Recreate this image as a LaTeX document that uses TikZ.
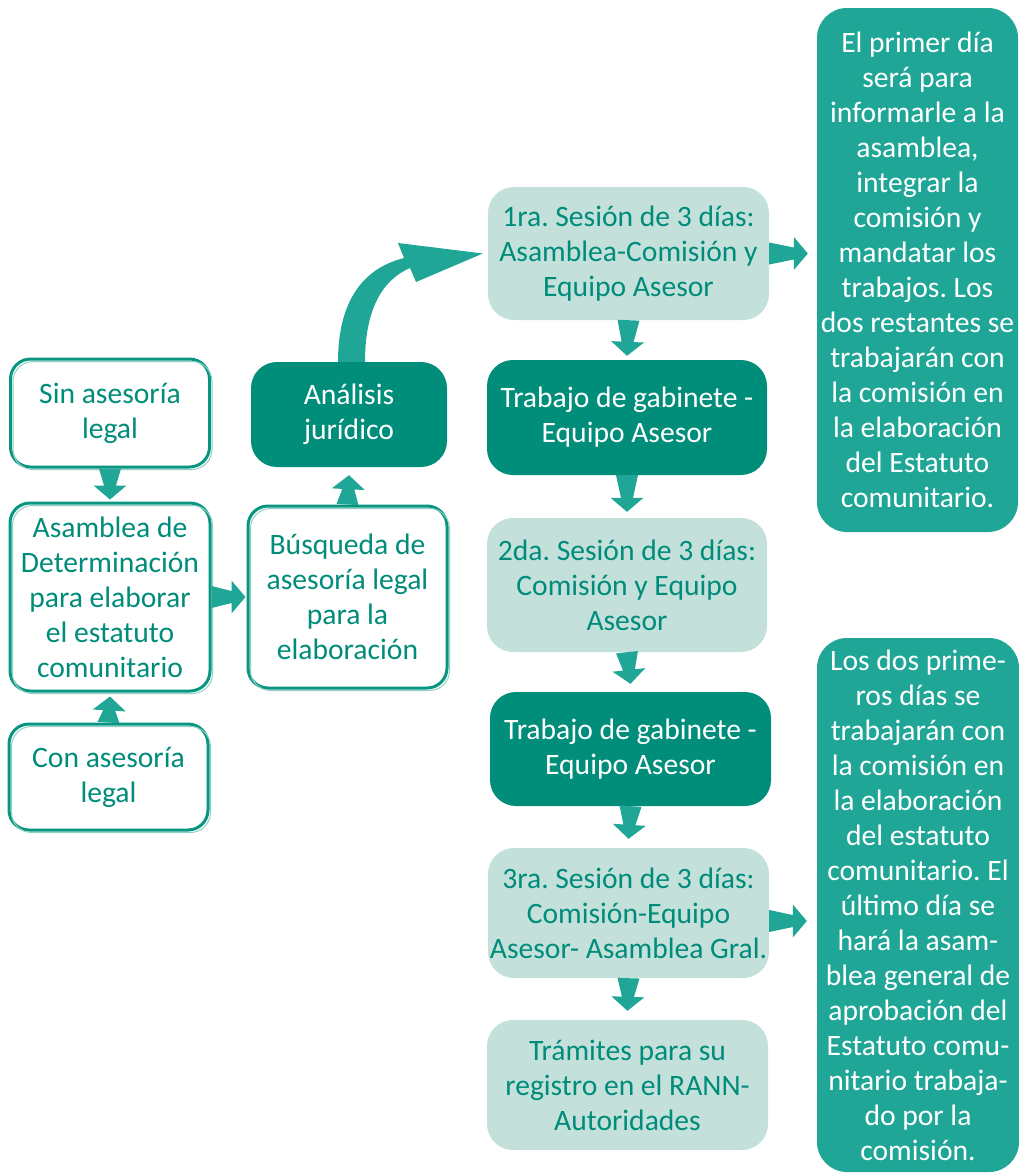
\documentclass[tikz,border=0pt]{standalone}
\usepackage{fontspec}
\setmainfont{Carlito}
\frenchspacing
\usetikzlibrary{calc}
\definecolor{darkteal}{RGB}{0,142,122}
\definecolor{midteal}{RGB}{32,166,150}
\definecolor{lightteal}{RGB}{196,224,219}
\definecolor{textteal}{RGB}{0,140,122}
\definecolor{linteal}{RGB}{8,150,128}
\tikzset{
  box/.style={rounded corners=26pt, inner sep=0pt, align=center, font=\fontsize{29.6}{35}\selectfont},
  outbox/.style={box, draw=linteal, line width=3pt, fill=white, text=textteal, rounded corners=20pt,
    postaction={draw=linteal!45, line width=1pt, transform canvas={shift={(2.5pt,-2.5pt)}}}},
  darkbox/.style={box, fill=darkteal, text=white},
  lightbox/.style={box, fill=lightteal, text=textteal},
  notebox/.style={box, fill=midteal, text=white, rounded corners=30pt},
  arrowfill/.style={fill=midteal},
}
\newcommand{\blockarrow}[2]{%
  \coordinate (ba-a) at #1;
  \coordinate (ba-b) at #2;
  \coordinate (ba-h) at ($(ba-b)!14pt!(ba-a)$);
  \fill[arrowfill] ($(ba-a)!11pt!90:(ba-b)$) -- ($(ba-h)!6pt!90:(ba-b)$) -- ($(ba-h)!16.5pt!90:(ba-b)$)
    -- (ba-b) -- ($(ba-h)!16.5pt!-90:(ba-b)$) -- ($(ba-h)!6pt!-90:(ba-b)$) -- ($(ba-a)!11pt!-90:(ba-b)$) -- cycle;}
\begin{document}
\begin{tikzpicture}[x=1pt,y=-1pt]
\useasboundingbox[fill=white] (0,0) rectangle (1019,1173);

\node[outbox, minimum width=199pt, minimum height=108pt] (sin) at (110,413) {Sin asesoría\\legal};
\node[outbox, minimum width=200pt, minimum height=188pt] (asam) at (110,597) {Asamblea de\\Determinación\\para elaborar\\el estatuto\\comunitario};
\node[outbox, minimum width=199pt, minimum height=106pt] (con) at (108.5,777) {Con asesoría\\legal};
\node[outbox, minimum width=199pt, minimum height=182pt] (busq) at (347.5,597) {Búsqueda de\\asesoría legal\\para la\\elaboración};
\node[darkbox, minimum width=196pt, minimum height=105pt] (anal) at (349,414.5) {Análisis\\jurídico};
\node[lightbox, minimum width=281pt, minimum height=133pt] (s1) at (628.5,253.5) {1ra. Sesión de 3 días:\\Asamblea-Comisión y\\Equipo Asesor};
\node[darkbox, minimum width=280pt, minimum height=115pt] (t1) at (627,417.5) {Trabajo de gabinete -\\Equipo Asesor};
\node[lightbox, minimum width=280pt, minimum height=134pt] (s2) at (627,585) {2da. Sesión de 3 días:\\Comisión y Equipo\\Asesor};
\node[darkbox, minimum width=281pt, minimum height=114pt] (t2) at (630.5,749) {Trabajo de gabinete -\\Equipo Asesor};
\node[lightbox, minimum width=281pt, minimum height=130pt] (s3) at (628.5,913) {3ra. Sesión de 3 días:\\Comisión-Equipo\\Asesor- Asamblea Gral.};
\node[lightbox, minimum width=281pt, minimum height=130pt] (tr) at (627.5,1085) {Trámites para su\\registro en el RANN-\\Autoridades};
\node[notebox, minimum width=201pt, minimum height=524pt] (rb1) at (917.5,270) {El primer día\\será para\\informarle a la\\asamblea,\\integrar la\\comisión y\\mandatar los\\trabajos. Los\\dos restantes se\\trabajarán con\\la comisión en\\la elaboración\\del Estatuto\\comunitario.};
\node[notebox, minimum width=202pt, minimum height=534pt] (rb2) at (918,905) {Los dos prime-\\ros días se\\trabajarán con\\la comisión en\\la elaboración\\del estatuto\\comunitario. El\\último día se\\hará la asam-\\blea general de\\aprobación del\\Estatuto comu-\\nitario trabaja-\\do por la\\comisión.};

% block arrows
\blockarrow{(sin.south)}{([yshift=2pt]asam.north)}
\blockarrow{(con.north)}{([yshift=-4pt]asam.south)}
\blockarrow{(asam.east)}{([xshift=-1pt]busq.west)}
\blockarrow{(busq.north)}{([yshift=-8pt]anal.south)}
\blockarrow{(s1.south)}{([yshift=4pt]t1.north)}
\blockarrow{(t1.south)}{([yshift=6pt]s2.north)}
\blockarrow{(s2.south)}{([yshift=8pt]t2.north)}
\blockarrow{(t2.south)}{([yshift=9pt]s3.north)}
\blockarrow{(s3.south)}{([yshift=9pt]tr.north)}
\blockarrow{(s1.east)}{($(s1.east -| rb1.west)+(-9,0)$)}
\coordinate (s3e) at ([yshift=-8pt]s3.east);
\blockarrow{(s3e)}{($(s3e -| rb2.west)+(-10,0)$)}

% curved arrow from Analisis to 1ra sesion
\coordinate (ctip) at ([xshift=-5pt]s1.west);
\fill[arrowfill] (anal.north -| 338,0) .. controls (338,300) and (364,268) .. (404,258)
  -- (398,243) -- (ctip) -- (416,282) -- (410,268)
  .. controls (382,280) and (365,310) .. (anal.north -| 365,0) -- cycle;
\end{tikzpicture}
\end{document}
